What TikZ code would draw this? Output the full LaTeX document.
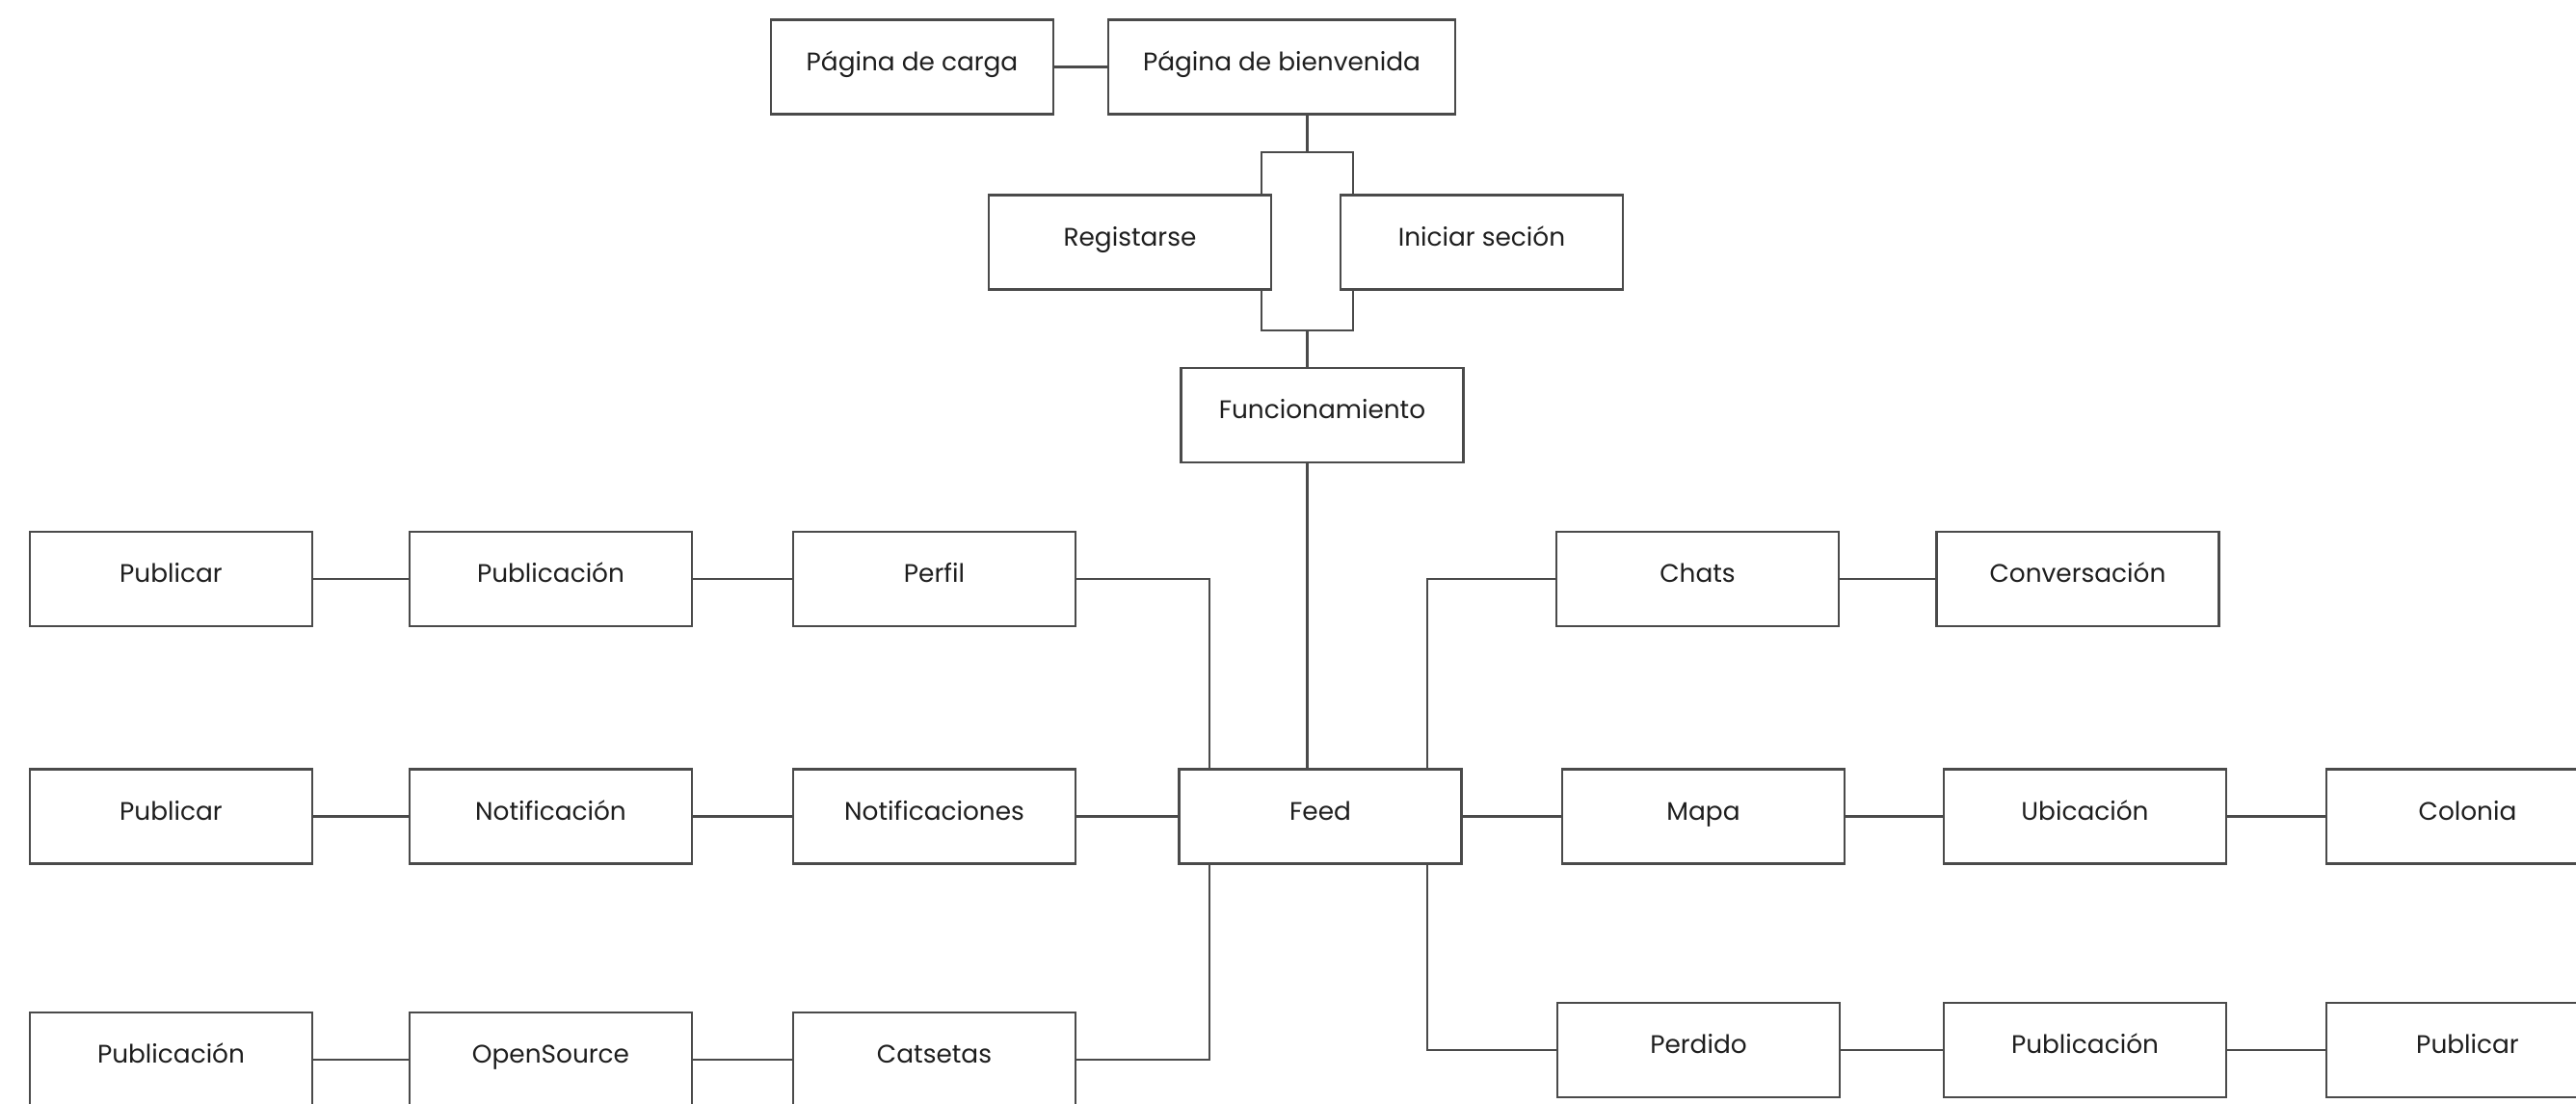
\documentclass[tikz,border=0pt]{standalone}
\usepackage{fontspec}
\setmainfont{Poppins}
\usepackage{tikz}
\usetikzlibrary{calc}

\definecolor{trazo}{HTML}{4A4A4A}
\definecolor{texto}{HTML}{1E1E1E}

\tikzset{
  caja/.style={draw=trazo, fill=white, line width=0.75pt, minimum width=2.93cm,
    minimum height=0.98cm, inner sep=0pt, text=texto, text height=1.4ex, text depth=1.0ex,
    font=\fontsize{7.5}{9}\selectfont},
  linea/.style={draw=trazo, line width=0.6pt},
}

\begin{document}
\begin{tikzpicture}[line cap=round]
	\useasboundingbox (0,0) rectangle (26.73,-11.45);

	% inicio
	\node[caja] (carga) at (9.465,-0.695) {Página de carga};
	\node[caja, minimum width=3.6cm] (bienvenida) at (13.30,-0.695) {Página de bienvenida};
	\node[draw=trazo, line width=0.6pt, minimum width=0.95cm, minimum height=1.85cm, inner sep=0pt] (marco) at (13.565,-2.505) {};
	\node[caja] (registro) at (11.725,-2.515) {Registarse};
	\node[caja] (sesion) at (15.375,-2.515) {Iniciar seción};
	\node[caja] (funcion) at (13.72,-4.31) {Funcionamiento};
	\node[caja] (feed) at (13.70,-8.475) {Feed};

	% lado izquierdo
	\node[caja] (publicarA) at (1.775,-6.01) {Publicar};
	\node[caja] (publicacionA) at (5.715,-6.01) {Publicación};
	\node[caja] (perfil) at (9.695,-6.01) {Perfil};
	\node[caja] (publicarB) at (1.775,-8.475) {Publicar};
	\node[caja] (notif) at (5.715,-8.475) {Notificación};
	\node[caja] (notifs) at (9.695,-8.475) {Notificaciones};
	\node[caja] (publicacionB) at (1.775,-11.0) {Publicación};
	\node[caja] (opensource) at (5.715,-11.0) {OpenSource};
	\node[caja] (catsetas) at (9.695,-11.0) {Catsetas};

	% lado derecho
	\node[caja] (chats) at (17.615,-6.01) {Chats};
	\node[caja] (conversacion) at (21.56,-6.01) {Conversación};
	\node[caja] (mapa) at (17.675,-8.475) {Mapa};
	\node[caja] (ubicacion) at (21.635,-8.475) {Ubicación};
	\node[caja] (colonia) at (25.605,-8.475) {Colonia};
	\node[caja] (perdido) at (17.625,-10.90) {Perdido};
	\node[caja] (publicacionC) at (21.635,-10.90) {Publicación};
	\node[caja] (publicarC) at (25.605,-10.90) {Publicar};

	\draw[linea] (carga) -- (bienvenida);
	\draw[linea] (marco.north) -- (marco.north |- bienvenida.south);
	\draw[linea] (marco.south) -- (marco.south |- funcion.north);
	\draw[linea] (marco.south |- funcion.south) -- (marco.south |- feed.north);

	\draw[linea] ([xshift=0.325cm]feed.north west) |- (perfil.east);
	\draw[linea] ([xshift=0.325cm]feed.south west) |- (catsetas.east);
	\draw[linea] ([xshift=-0.365cm]feed.north east) |- (chats.west);
	\draw[linea] ([xshift=-0.365cm]feed.south east) |- (perdido.west);

	\draw[linea] (publicarA) -- (publicacionA);
	\draw[linea] (publicacionA) -- (perfil);
	\draw[linea] (publicarB) -- (notif);
	\draw[linea] (notif) -- (notifs);
	\draw[linea] (notifs) -- (feed);
	\draw[linea] (publicacionB) -- (opensource);
	\draw[linea] (opensource) -- (catsetas);

	\draw[linea] (chats) -- (conversacion);
	\draw[linea] (feed) -- (mapa);
	\draw[linea] (mapa) -- (ubicacion);
	\draw[linea] (ubicacion) -- (colonia);
	\draw[linea] (perdido) -- (publicacionC);
	\draw[linea] (publicacionC) -- (publicarC);

\end{tikzpicture}
\end{document}
